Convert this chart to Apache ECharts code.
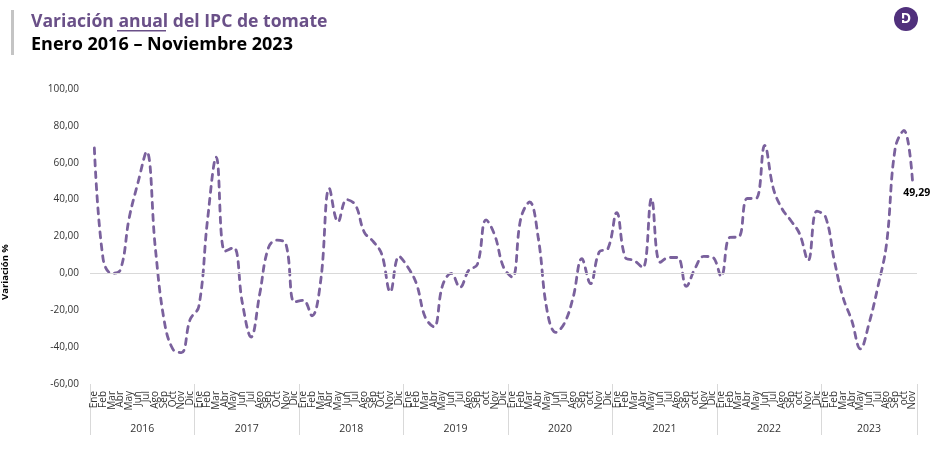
<!DOCTYPE html>
<html>
<head>
<meta charset="utf-8">
<script src="https://cdn.jsdelivr.net/npm/echarts@6/dist/echarts.min.js"></script>
<style>
  html, body { margin: 0; padding: 0; background: #fff; }
  #main { width: 935px; height: 453px; }
</style>
</head>
<body>
<div id="main"></div>
<script>
var years = ['2016', '2017', '2018', '2019', '2020', '2021', '2022', '2023'];
var monthNames = ['Ene', 'Feb', 'Mar', 'Abr', 'May', 'Jun', 'Jul', 'Ago', 'Sep', 'Oct', 'Nov', 'Dic'];
// from 2019 on the source writes October in lower case
var monthNamesLate = ['Ene', 'Feb', 'Mar', 'Abr', 'May', 'Jun', 'Jul', 'Ago', 'Sep', 'oct', 'Nov', 'Dic'];
var values2016 = [68, 8, 0, 2, 30, 49, 66, 14, -25, -41, -43, -25];
var values2017 = [-18, 29, 63, 12, 14, -16, -34.5, -11, 14, 18, 16, -15.5];
var values2018 = [-14.6, -23, -4, 46, 28, 40, 37, 22.4, 17.5, 10.6, -10, 9.2];
var values2019 = [3.4, -5.6, -23.7, -29, -6.5, 0, -7.6, 1.6, 4.9, 29, 20.6, 3.4];
var values2020 = [-2, 30, 38.7, 19, -20, -32, -27, -13, 8, -5.6, 11.6, 13.4];
var values2021 = [33, 8.6, 7, 3, 40.6, 6, 8.6, 8.6, -7, 2.7, 9.2, 8.8];
var values2022 = [-1.6, 19.5, 19.7, 40.6, 40.6, 69.4, 46, 35, 28.7, 21.6, 7, 33.8];
var values2023 = [30.5, 7, -13, -25.5, -41, -27, -7.4, 16, 68, 77.5, 49.29];

var values = [].concat(values2016, values2017, values2018, values2019, values2020, values2021, values2022, values2023);
var months = values.map(function (v, i) { return (i < 36 ? monthNames : monthNamesLate)[i % 12]; });

// year bands: separators every 12 months, label in the middle of each band
var yearTicks = years.map(function (y, i) { return i * 12; }).concat([values.length]);
var yearMiddles = years.map(function (y, i) { return (yearTicks[i] + yearTicks[i + 1]) / 2; });

function decimal(v) {
    return v.toFixed(2).replace('.', ',');
}

var myChart = echarts.init(document.getElementById('main'));
var fontName = '"Open Sans", sans-serif';
var titleColor = '#6a5088';
var logoColor = '#50307c';

var option = {
    backgroundColor: '#fff',
    animation: false,
    textStyle: { fontFamily: fontName },
    grid: { left: 90, right: 18, top: 89, bottom: 69 },
    xAxis: [{
        type: 'category',
        data: months,
        boundaryGap: true,
        axisLine: { show: false },
        axisTick: { show: false },
        axisLabel: { interval: 0, rotate: 90, margin: 7, padding: [6, 0, 0, 0], fontSize: 10, color: '#333', fontFamily: fontName }
    }, {
        type: 'value',
        position: 'bottom',
        min: 0,
        max: values.length,
        splitLine: { show: false },
        axisLine: { show: false },
        axisTick: { show: true, length: 51, lineStyle: { color: '#d9d9d9', width: 1 }, customValues: yearTicks },
        axisLabel: {
            margin: 40,
            fontSize: 10.5,
            color: '#333',
            fontFamily: fontName,
            customValues: yearMiddles,
            formatter: function (v) { return years[Math.floor(v / 12)]; }
        }
    }],
    yAxis: {
        type: 'value',
        min: -60,
        max: 100,
        interval: 20,
        splitLine: { show: false },
        axisLine: { show: false },
        axisTick: { show: false },
        axisLabel: { margin: 11, padding: [4, 0, 0, 0], fontSize: 10, color: '#333', fontFamily: fontName, formatter: decimal }
    },
    series: [{
        type: 'line',
        data: values,
        smooth: 0.4,
        showSymbol: false,
        symbol: 'none',
        lineStyle: { color: '#7a619d', width: 2.8, type: [6, 6], cap: 'round' },
        endLabel: {
            show: true,
            formatter: function (p) { return decimal(p.value); },
            fontSize: 10.5,
            fontWeight: 'bold',
            color: '#000',
            align: 'center',
            verticalAlign: 'middle',
            offset: [-4, 11]
        },
        markLine: {
            silent: true,
            symbol: 'none',
            label: { show: false },
            lineStyle: { color: '#d9d9d9', width: 1, type: 'solid' },
            data: [{ yAxis: 0 }]
        }
    }],
    graphic: [
        { type: 'rect', shape: { x: 11, y: 10, width: 3, height: 45 }, style: { fill: '#c4c4c4' } },
        { type: 'text', x: 31, y: 13, style: { text: 'Variación anual del IPC de tomate', font: 'bold 17.6px ' + fontName, fill: titleColor } },
        { type: 'rect', shape: { x: 117, y: 30, width: 49, height: 1.5 }, style: { fill: titleColor } },
        { type: 'text', x: 31, y: 36, style: { text: 'Enero 2016 – Noviembre 2023', font: 'bold 18px ' + fontName, fill: '#000' } },
        { type: 'circle', shape: { cx: 906, cy: 19, r: 12 }, style: { fill: logoColor } },
        { type: 'text', x: 906, y: 19, style: { text: 'D', font: 'bold 14px ' + fontName, fill: '#fff', align: 'center', verticalAlign: 'middle' } },
        { type: 'rect', shape: { x: 900, y: 18.5, width: 5, height: 1.5 }, style: { fill: logoColor } },
        { type: 'text', x: 5, y: 272, rotation: Math.PI / 2, style: { text: 'Variación %', font: 'bold 9.5px ' + fontName, fill: '#000', align: 'center', verticalAlign: 'middle' } }
    ]
};
myChart.setOption(option);
</script>
</body>
</html>
